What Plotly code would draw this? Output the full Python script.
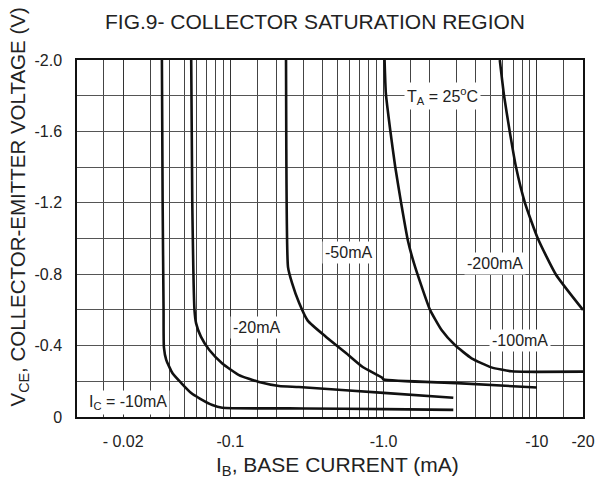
import numpy as np
import plotly.graph_objects as go

# Base current magnitude (mA) and V_CE (V) for each collector current curve
ib_10 = [0.0358, 0.0362, 0.0367, 0.0369, 0.0382, 0.0420, 0.0479, 0.0556, 0.0629, 0.0764, 0.0887, 0.3, 1.0, 2.85]
v_10 = [-2.0, -1.2, -0.6, -0.39, -0.32, -0.245, -0.19, -0.134, -0.105, -0.067, -0.052, -0.048, -0.044, -0.040]

ib_20 = [0.0556, 0.0565, 0.0584, 0.0598, 0.0643, 0.0730, 0.0887, 0.114, 0.154, 0.208, 0.28, 1.0, 2.85]
v_20 = [-2.0, -1.2, -0.6, -0.526, -0.45, -0.375, -0.30, -0.235, -0.196, -0.174, -0.168, -0.135, -0.108]

ib_50 = [0.231, 0.232, 0.238, 0.253, 0.281, 0.320, 0.42, 0.566, 0.731, 0.98, 1.0, 3.0, 10.0]
v_50 = [-2.0, -1.5, -0.84, -0.75, -0.64, -0.54, -0.45, -0.36, -0.28, -0.22, -0.21, -0.19, -0.165]

ib_100 = [1.015, 1.035, 1.105, 1.191, 1.303, 1.438, 1.58, 1.773, 2.01, 2.39, 2.92, 3.75, 5.05, 6.81, 10.0, 20.0]
v_100 = [-2.0, -1.813, -1.608, -1.402, -1.197, -0.992, -0.86, -0.73, -0.60, -0.487, -0.403, -0.329, -0.278, -0.256, -0.253, -0.254]

ib_200 = [5.73, 6.11, 6.65, 7.31, 8.36, 10.15, 13.27, 20.0]
v_200 = [-2.0, -1.8, -1.6, -1.4, -1.2, -1.0, -0.8, -0.6]

x_tickvals = [0.02, 0.1, 1, 10, 20]
x_ticktext = ["- 0.02", "-0.1", "-1.0", "-10", "-20"]
x_minor = [m * d for d in [0.01, 0.1, 1, 10] for m in [1.5, 2, 3, 4, 5, 6, 7, 8, 9]] + [15]
y_tickvals = [0, -0.4, -0.8, -1.2, -1.6, -2.0]
y_ticktext = ["0", "-0.4", "-0.8", "-1.2", "-1.6", "-2.0"]
y_minor = [-0.2, -0.6, -1.0, -1.4, -1.8]

labels = [
    (2.41, -1.8, "T<sub>A</sub> = 25<sup>o</sup>C"),
    (0.593, -0.92, "-50mA"),
    (5.34, -0.86, "-200mA"),
    (0.148, -0.50, "-20mA"),
    (7.76, -0.43, "-100mA"),
    (0.0214, -0.084, "I<sub>C</sub> = -10mA"),
]

fig = go.Figure()
for xs, ys in [(ib_10, v_10), (ib_20, v_20), (ib_50, v_50), (ib_100, v_100), (ib_200, v_200)]:
    fig.add_trace(go.Scatter(x=xs, y=ys, mode="lines",
                             line=dict(color="#111111", width=2.6, shape="spline", smoothing=0.5),
                             showlegend=False, hoverinfo="skip"))

font_family = "Liberation Sans, Arial, sans-serif"
for x, y, t in labels:
    fig.add_annotation(x=np.log10(x), y=y, text=t, showarrow=False, bgcolor="white",
                       font=dict(family=font_family, size=16, color="#222"), borderpad=2)

# axis titles
fig.add_annotation(xref="paper", yref="paper", x=0.5, y=0, xanchor="center", yanchor="middle",
                   xshift=7, yshift=-49, showarrow=False,
                   text="I<sub>B</sub>, BASE CURRENT (mA)", font=dict(family=font_family, size=21, color="#222"))
fig.add_annotation(xref="paper", yref="paper", x=0, y=0.5, xanchor="center", yanchor="middle",
                   xshift=-59, yshift=31, textangle=-90, showarrow=False,
                   text="V<sub>CE</sub>, COLLECTOR-EMITTER VOLTAGE (V)", font=dict(family=font_family, size=20.5, color="#222"))

fig.update_layout(
    width=597, height=486,
    margin=dict(l=77, r=14, t=60, b=69),
    paper_bgcolor="white", plot_bgcolor="white",
    title=dict(text="FIG.9- COLLECTOR SATURATION REGION", x=315 / 597, xanchor="center", y=1 - 22 / 486, yanchor="middle",
               font=dict(family=font_family, size=21, color="#222")),
    font=dict(family=font_family, color="#222", size=16),
    xaxis=dict(type="log", range=[np.log10(0.01), np.log10(20)], tickmode="array",
               tickvals=x_tickvals, ticktext=x_ticktext, showgrid=True, gridcolor="#333", gridwidth=1.3,
               minor=dict(tickmode="array", tickvals=x_minor, showgrid=True, gridcolor="#444", gridwidth=1, ticks=""),
               showline=True, linecolor="#111", linewidth=1.5, mirror=True, ticks="",
               tickfont=dict(family=font_family, size=16, color="#222"), ticklabelstandoff=9, automargin=False,
               zeroline=False),
    yaxis=dict(range=[0, -2.0], tickmode="array", tickvals=y_tickvals, ticktext=y_ticktext,
               showgrid=True, gridcolor="#555", gridwidth=1,
               minor=dict(tickmode="array", tickvals=y_minor, showgrid=True, gridcolor="#555", gridwidth=1, ticks=""),
               showline=True, linecolor="#111", linewidth=1.5, mirror=True, ticks="",
               tickfont=dict(family=font_family, size=16, color="#222"), ticklabelstandoff=10, automargin=False,
               zeroline=False),
)

fig.write_html("out.html")
